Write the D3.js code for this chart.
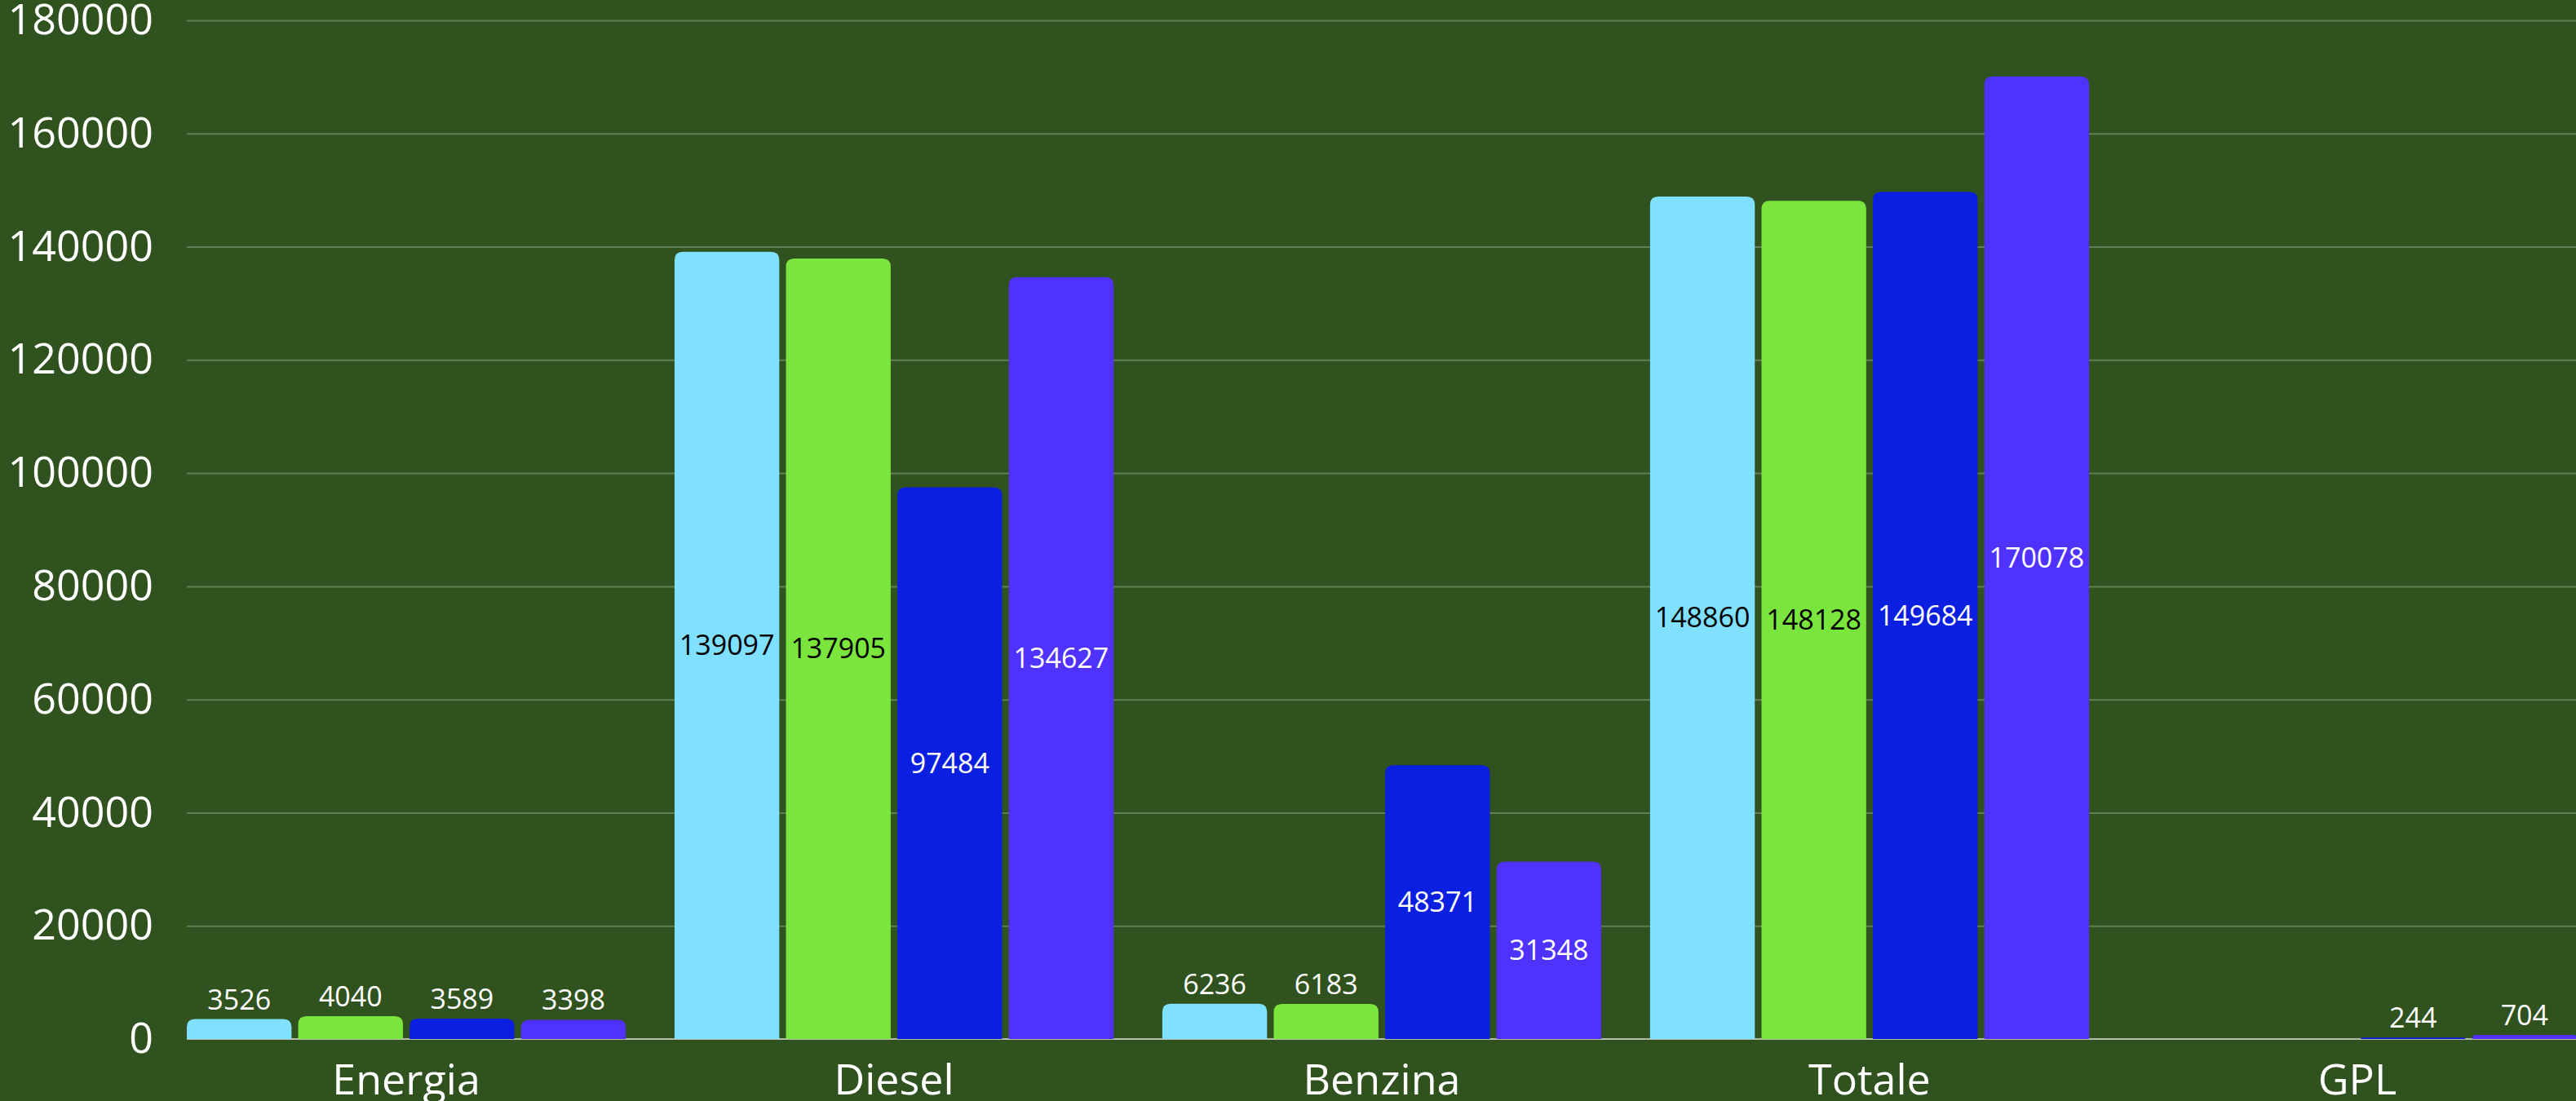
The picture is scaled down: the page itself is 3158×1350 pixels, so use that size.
<!DOCTYPE html>
<html>
<head>
<meta charset="utf-8">
<style>
  html, body { margin: 0; padding: 0; background: #30521e; overflow: hidden; }
  svg { display: block; font-family: "Open Sans", sans-serif; }
</style>
</head>
<body>
<script src="https://d3js.org/d3.v7.min.js"></script>
<script>

var categories = ["Energia", "Diesel", "Benzina", "Totale", "GPL"];
var seriesNames = ["s1", "s2", "s3", "s4"];
var seriesColors = ["#7fe1ff", "#79e53d", "#0a1fe0", "#5032ff"];
var labelColors = ["#000000", "#000000", "#ffffff", "#ffffff"];

// one array per series, in category order (null = no bar)
var s1 = [3526, 139097, 6236, 148860, null];
var s2 = [4040, 137905, 6183, 148128, null];
var s3 = [3589, 97484, 48371, 149684, 244];
var s4 = [3398, 134627, 31348, 170078, 704];
var seriesValues = [s1, s2, s3, s4];

var yTicks = [0, 20000, 40000, 60000, 80000, 100000, 120000, 140000, 160000, 180000];

var width = 3158,
    height = 1350;

var svg = d3.select("body")
    .append("svg")
    .attr("width", width)
    .attr("height", height);

svg.append("rect")
    .attr("width", width)
    .attr("height", height)
    .attr("fill", "#30521e");

var x0 = d3.scaleBand()
    .domain(categories)
    .range([229, 3159])
    .paddingInner(0.1)
    .paddingOuter(0);

var x1 = d3.scaleBand()
    .domain(seriesNames)
    .range([0, x0.bandwidth()])
    .paddingInner(0.06)
    .paddingOuter(0);

var y = d3.scaleLinear()
    .domain([0, 180000])
    .range([1274, 25]);

// grid lines
svg.append("g")
    .selectAll("line")
    .data(yTicks.filter(function(d) { return d > 0; }))
  .enter().append("line")
    .attr("x1", 229)
    .attr("x2", width)
    .attr("y1", function(d) { return y(d) + 0.5; })
    .attr("y2", function(d) { return y(d) + 0.5; })
    .attr("stroke", "rgba(255,255,255,0.25)")
    .attr("stroke-width", 2);

// y axis labels
var yAxis = svg.append("g")
    .attr("transform", "translate(229,0)")
    .call(d3.axisLeft(y).tickValues(yTicks).tickSize(0).tickPadding(41).tickFormat(d3.format("d")));
yAxis.select(".domain").remove();
yAxis.selectAll("text")
    .attr("fill", "#ffffff")
    .style("font-size", "52px")
    .style("font-family", "'Open Sans', sans-serif");

// flatten data
var rows = [];
categories.forEach(function(c, ci) {
  seriesNames.forEach(function(s, si) {
    var v = seriesValues[si][ci];
    if (v != null) rows.push({ cat: c, s: s, si: si, value: v });
  });
});

function topRounded(x, yTop, w, h, r) {
  r = Math.min(r, h, w / 2);
  var yb = yTop + h;
  return "M" + x + "," + yb +
    "V" + (yTop + r) +
    "Q" + x + "," + yTop + " " + (x + r) + "," + yTop +
    "H" + (x + w - r) +
    "Q" + (x + w) + "," + yTop + " " + (x + w) + "," + (yTop + r) +
    "V" + yb + "Z";
}

// baseline
svg.append("line")
    .attr("x1", 229)
    .attr("x2", width)
    .attr("y1", y(0))
    .attr("y2", y(0))
    .attr("stroke", "#b8bcae")
    .attr("stroke-width", 2);

var groups = svg.append("g");

groups.selectAll(".bar")
    .data(rows)
  .enter().append("path")
    .attr("class", "bar")
    .attr("d", function(d) {
      var bx = x0(d.cat) + x1(d.s);
      var top = y(d.value);
      return topRounded(bx, top, x1.bandwidth(), y(0) - top, 10);
    })
    .attr("fill", function(d) { return seriesColors[d.si]; });

groups.selectAll(".val")
    .data(rows)
  .enter().append("text")
    .attr("class", "val")
    .attr("x", function(d) { return x0(d.cat) + x1(d.s) + x1.bandwidth() / 2; })
    .attr("y", function(d) {
      var top = y(d.value), h = y(0) - top;
      return h > 100 ? top + h / 2 : top - 12;
    })
    .attr("dy", function(d) { return (y(0) - y(d.value)) > 100 ? "0.35em" : "0"; })
    .attr("text-anchor", "middle")
    .attr("fill", function(d) {
      return (y(0) - y(d.value)) > 100 ? labelColors[d.si] : "#ffffff";
    })
    .style("font-size", "34px")
    .text(function(d) { return d.value; });

// category labels
svg.append("g")
    .selectAll("text")
    .data(categories)
  .enter().append("text")
    .attr("x", function(d) { return x0(d) + x0.bandwidth() / 2; })
    .attr("y", 1342)
    .attr("text-anchor", "middle")
    .attr("fill", "#ffffff")
    .style("font-size", "52px")
    .text(function(d) { return d; });

</script>
</body>
</html>
